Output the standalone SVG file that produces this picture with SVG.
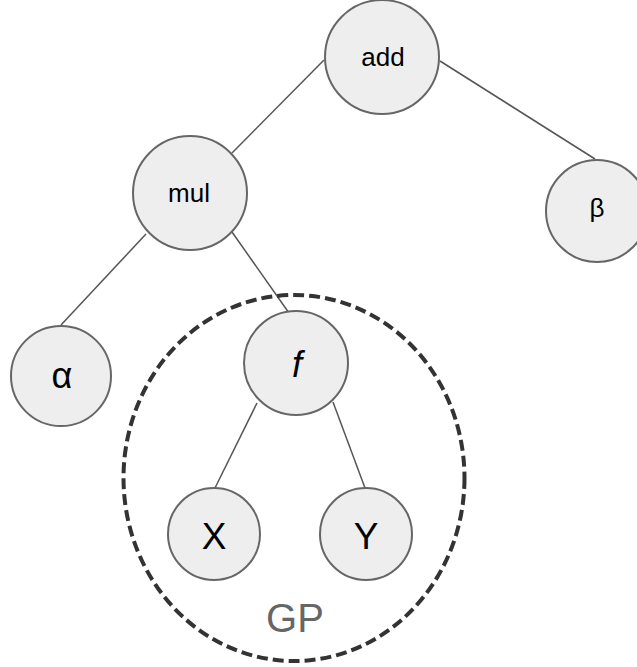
<svg xmlns="http://www.w3.org/2000/svg" width="637" height="667" viewBox="0 0 637 667">
<style>
.node{fill:#eeeeee;stroke:#666666;stroke-width:2}
.lbl{font-family:"Liberation Sans",Arial,sans-serif;fill:#000;text-anchor:middle}
.edge{stroke:#555555;stroke-width:1.5;fill:none}
</style>
<rect width="637" height="667" fill="#ffffff"/>
<g id="connectors">
<line class="edge" x1="324" y1="60" x2="232" y2="153"/>
<line class="edge" x1="440" y1="61" x2="595" y2="159"/>
<line class="edge" x1="146" y1="234" x2="61" y2="325"/>
<line class="edge" x1="232" y1="232" x2="289" y2="313"/>
<line class="edge" x1="257" y1="403" x2="215" y2="488"/>
<line class="edge" x1="333" y1="402" x2="365" y2="488"/>
</g>
<g id="gp">
<ellipse cx="294" cy="478" rx="170.5" ry="183" fill="none" stroke="#333333" stroke-width="4" stroke-dasharray="11,5"/>
<text class="lbl" x="295" y="632" font-size="40" style="fill:#666666">GP</text>
</g>
<g id="add"><circle class="node" cx="382" cy="57" r="57"/><text class="lbl" x="383" y="66" font-size="26">add</text></g>
<g id="mul"><circle class="node" cx="190" cy="193" r="57"/><text class="lbl" x="189" y="202" font-size="26">mul</text></g>
<g id="beta"><circle class="node" cx="597" cy="211" r="51"/><text class="lbl" x="597" y="217" font-size="26">β</text></g>
<g id="alpha"><circle class="node" cx="61" cy="376" r="50"/><text class="lbl" x="62" y="388" font-size="36">α</text></g>
<g id="f"><circle class="node" cx="296" cy="363" r="52"/><text class="lbl" x="297" y="377" font-size="36" font-style="italic">f</text></g>
<g id="X"><circle class="node" cx="214" cy="534" r="46"/><text class="lbl" x="214" y="549" font-size="37">X</text></g>
<g id="Y"><circle class="node" cx="366" cy="534" r="46"/><text class="lbl" x="366" y="549" font-size="37">Y</text></g>
</svg>
